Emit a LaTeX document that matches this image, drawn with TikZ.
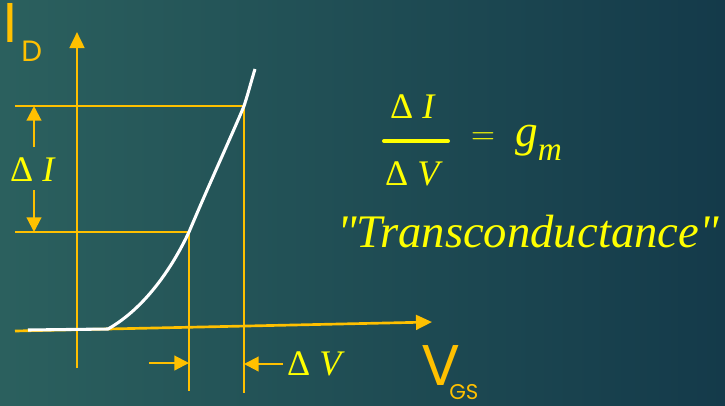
\documentclass[tikz,border=0pt]{standalone}
\usepackage{amsmath}
\usepackage{fontspec}
\usepackage{xcolor}
\usetikzlibrary{arrows.meta,calc}
\newfontfamily\gothic{Poppins}
\newfontfamily\quotefont{Liberation Serif}
\definecolor{bgleft}{HTML}{2B605E}
\definecolor{bgright}{HTML}{143A4A}
\definecolor{axisyel}{HTML}{FFC000}
\definecolor{mathyel}{HTML}{FFFF00}

\begin{document}
\begin{tikzpicture}[x=0.75pt, y=-0.75pt,
  axis/.style={draw=axisyel, line width=2pt, -{Triangle[length=12pt, width=11pt]}},
  guide/.style={draw=axisyel, line width=1.6pt},
  arr/.style={draw=axisyel, line width=1.6pt, -{Triangle[length=11pt, width=11pt]}},
  mathlbl/.style={text=mathyel, inner sep=6pt, font=\quotefont\fontsize{27}{32}\selectfont},
  gothlbl/.style={text=axisyel, inner sep=0pt, anchor=base west}]
% background
\shade[left color=bgleft, right color=bgright] (0,0) rectangle (725,405);
\useasboundingbox (0,0) rectangle (725,405);

% axes
\coordinate (xfrom) at (15,331);
\coordinate (xto) at (432,322);
\coordinate (yfrom) at (77,368);
\coordinate (yto) at (77,32);
\draw[axis] (xfrom) -- (xto);
\draw[axis] (yfrom) -- (yto);

% points on the curve
\coordinate (pA) at (189,232);
\coordinate (pB) at (244,106);
\coordinate (left) at (15,0);

\draw[guide] (left |- pA) -- (pA) -- (189,391);
\draw[guide] (left |- pB) -- (pB) -- (244,393);

% I_D characteristic
\draw[white, line width=2.3pt] (28,330) -- (108,329)
  .. controls (145,308) and (172,268) .. (pA)
  .. controls (211,180) and (235,128) .. (pB)
  .. controls (248,94) and (251,82) .. (255,69);

% delta I
\node[mathlbl, inner sep=5pt] (dI) at (33,170) {Δ \textit{I}};
\coordinate (ditop) at (34,147);
\coordinate (dibot) at (34,190);
\draw[arr] (ditop) -- (ditop |- pB);
\draw[arr] (dibot) -- (dibot |- pA);

% delta V
\node[mathlbl, inner sep=3pt] (dV) at (316,364) {Δ \textit{V}};
\coordinate (dvtail) at (149,363);
\draw[arr] (dvtail) -- (dvtail -| pA);
\draw[arr] (dV.west) -- (dV.west -| pB);

% axis names
\node[gothlbl, font=\gothic\fontsize{42}{42}\selectfont] (Iname) at (3,42) {I};
\node[gothlbl, font=\gothic\fontsize{22}{22}\selectfont] (Dname) at (21,61) {D};
\node[gothlbl, font=\gothic\fontsize{43}{43}\selectfont] (Vname) at (421,385) {V};
\node[gothlbl, font=\gothic\fontsize{16}{16}\selectfont] (GSname) at (449,399) {GS};

% transconductance
\node[mathlbl, inner sep=0pt] (num) at (413,107) {Δ \textit{I}};
\node[mathlbl, inner sep=0pt] (den) at (414,174) {Δ \textit{V}};
\coordinate (barL) at (384,141);
\coordinate (barR) at (448,141);
\draw[mathyel, line width=3pt, line cap=round] (barL) -- (barR);
\node[text=mathyel, inner sep=0pt, font=\fontsize{32}{34}\selectfont] (eq) at (483,139) {$=$};
\node[mathlbl, inner sep=0pt, anchor=base west, font=\quotefont\itshape\fontsize{34}{36}\selectfont] (gm) at (515,146)
  {g\lower11pt\hbox{\fontsize{25}{25}\selectfont m}};
\node[text=mathyel, inner sep=0pt, font=\quotefont\itshape\fontsize{35}{40}\selectfont] (tc) at (528,232) {"Transconductance"};
\end{tikzpicture}
\end{document}
